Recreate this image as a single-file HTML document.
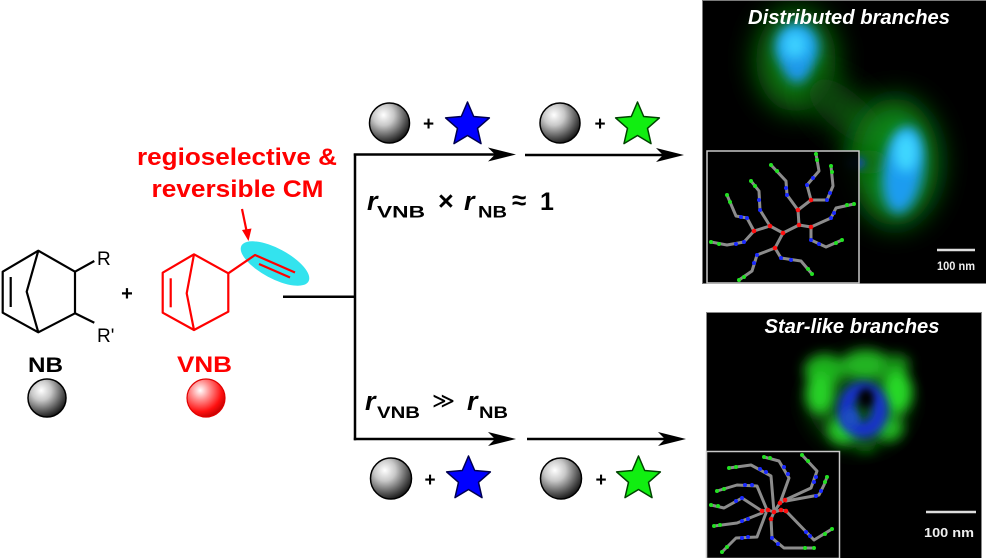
<!DOCTYPE html>
<html>
<head>
<meta charset="utf-8">
<style>
  html,body{margin:0;padding:0;background:#fff;}
  svg{display:block;}
  text{font-family:"Liberation Sans","DejaVu Sans",sans-serif;}
</style>
</head>
<body>
<svg width="986" height="558" viewBox="0 0 986 558" xmlns="http://www.w3.org/2000/svg">
  <defs>
    <radialGradient id="gs" cx="35%" cy="30%" r="75%">
      <stop offset="0%" stop-color="#ffffff"/>
      <stop offset="35%" stop-color="#c8c8c8"/>
      <stop offset="75%" stop-color="#555"/>
      <stop offset="100%" stop-color="#111"/>
    </radialGradient>
    <radialGradient id="rs" cx="35%" cy="30%" r="75%">
      <stop offset="0%" stop-color="#ffffff"/>
      <stop offset="35%" stop-color="#ff8a8a"/>
      <stop offset="75%" stop-color="#ff1010"/>
      <stop offset="100%" stop-color="#c00000"/>
    </radialGradient>
    <path id="star" d="M0,-23 L6.2,-8.5 L21.87,-7.11 L10,3.3 L13.52,18.61 L0,10.5 L-13.52,18.61 L-10,3.3 L-21.87,-7.11 L-6.2,-8.5 Z"/>
    <filter id="b14" x="-100%" y="-100%" width="300%" height="300%"><feGaussianBlur stdDeviation="14"/></filter>
    <filter id="b10" x="-100%" y="-100%" width="300%" height="300%"><feGaussianBlur stdDeviation="10"/></filter>
    <filter id="b6" x="-100%" y="-100%" width="300%" height="300%"><feGaussianBlur stdDeviation="6"/></filter>
    <filter id="b5" x="-100%" y="-100%" width="300%" height="300%"><feGaussianBlur stdDeviation="5"/></filter>
    <filter id="b4" x="-100%" y="-100%" width="300%" height="300%"><feGaussianBlur stdDeviation="4"/></filter>
    <filter id="b3" x="-100%" y="-100%" width="300%" height="300%"><feGaussianBlur stdDeviation="3"/></filter>
  </defs>

  <!-- ===== LEFT: NB ===== -->
  <g fill="none" stroke="#000" stroke-width="2.2" stroke-linejoin="round">
    <path d="M38.3,250.7 L2.7,271.7 L2.7,312.7 L38.3,332.3 L75,313.3 L75,271.7 Z"/>
    <path d="M38.3,250.7 L26.7,291.7 L38.3,332.3"/>
    <path d="M10.7,277 L10.7,307"/>
    <path d="M75,271.7 L94.3,261"/>
    <path d="M75,313.3 L94.3,322.7"/>
  </g>
  <text x="97" y="265" font-size="19" fill="#000">R</text>
  <text x="97" y="342" font-size="19" fill="#000">R'</text>
  <text x="127" y="300" font-size="20" font-weight="bold" text-anchor="middle" fill="#000">+</text>
  <text x="45.5" y="372" font-size="21" font-weight="bold" text-anchor="middle" fill="#000" textLength="35" lengthAdjust="spacingAndGlyphs">NB</text>
  <circle cx="47" cy="398" r="19" fill="url(#gs)" stroke="#000" stroke-width="1.5"/>

  <!-- ===== VNB ===== -->
  <ellipse cx="275" cy="263.5" rx="38" ry="15" transform="rotate(28 275 263.5)" fill="#33e3ee"/>
  <g fill="none" stroke="#ff0000" stroke-width="2.2" stroke-linejoin="round">
    <path d="M194,254.3 L162.7,272.7 L162.7,312.7 L194,330 L228.3,311.7 L228.3,273.3 Z"/>
    <path d="M194,254.3 L186.7,293.3 L194,330"/>
    <path d="M170.7,278.3 L170.7,307.3"/>
    <path d="M228.3,273.3 L255,255 L295,272.5"/>
    <path d="M259,264 L290,277.5"/>
    <path d="M242,209 L247,233"/>
  </g>
  <polygon points="248.5,241 242,230 251.5,228.5" fill="#ff0000"/>
  <text x="237" y="165" font-size="24" font-weight="bold" text-anchor="middle" fill="#ff0000" textLength="200" lengthAdjust="spacingAndGlyphs">regioselective &amp;</text>
  <text x="237.5" y="197" font-size="24" font-weight="bold" text-anchor="middle" fill="#ff0000" textLength="172" lengthAdjust="spacingAndGlyphs">reversible CM</text>
  <text x="204.5" y="372" font-size="22" font-weight="bold" text-anchor="middle" fill="#ff0000" textLength="55" lengthAdjust="spacingAndGlyphs">VNB</text>
  <circle cx="206" cy="398" r="19" fill="url(#rs)" stroke="#e00000" stroke-width="1.2"/>

  <!-- ===== Branch lines and arrows ===== -->
  <g stroke="#000" stroke-width="2.5" fill="none">
    <path d="M283,296.7 L355,296.7"/>
    <path d="M355,153.5 L355,440.2"/>
    <path d="M353.8,154.5 L500,154.5"/>
    <path d="M525,155 L668,155"/>
    <path d="M353.8,439 L500,439"/>
    <path d="M527,439 L670,439"/>
  </g>
  <g fill="#000">
    <polygon points="516,154.5 488,147.5 495,154.5 488,161.5"/>
    <polygon points="684,155 656,148 663,155 656,162"/>
    <polygon points="516,439 488,432 495,439 488,446"/>
    <polygon points="686,439 658,432 665,439 658,446"/>
  </g>

  <!-- top reagents -->
  <circle cx="389.5" cy="123" r="20" fill="url(#gs)" stroke="#000" stroke-width="1.5"/>
  <text x="428.5" y="130" font-size="19" font-weight="bold" text-anchor="middle">+</text>
  <use href="#star" x="467.5" y="125" fill="#0000ff" stroke="#000050" stroke-width="1.5" stroke-linejoin="round"/>
  <circle cx="560" cy="123" r="20" fill="url(#gs)" stroke="#000" stroke-width="1.5"/>
  <text x="600" y="130" font-size="19" font-weight="bold" text-anchor="middle">+</text>
  <use href="#star" x="637.5" y="125" fill="#11ee11" stroke="#004400" stroke-width="1.5" stroke-linejoin="round"/>

  <!-- bottom reagents -->
  <circle cx="391" cy="478.5" r="20.5" fill="url(#gs)" stroke="#000" stroke-width="1.5"/>
  <text x="430" y="486" font-size="19" font-weight="bold" text-anchor="middle">+</text>
  <use href="#star" x="468.5" y="479" fill="#0000ff" stroke="#000050" stroke-width="1.5" stroke-linejoin="round"/>
  <circle cx="561" cy="478.5" r="20.5" fill="url(#gs)" stroke="#000" stroke-width="1.5"/>
  <text x="601" y="486" font-size="19" font-weight="bold" text-anchor="middle">+</text>
  <use href="#star" x="638.5" y="479" fill="#11ee11" stroke="#004400" stroke-width="1.5" stroke-linejoin="round"/>

  <!-- formulas -->
  <text x="367" y="210" font-size="27" font-weight="bold" font-style="italic">r</text>
  <text x="377" y="217.5" font-size="17" font-weight="bold" textLength="48" lengthAdjust="spacingAndGlyphs">VNB</text>
  <text x="438" y="210" font-size="27" font-weight="bold">×</text>
  <text x="464" y="210" font-size="27" font-weight="bold" font-style="italic">r</text>
  <text x="478" y="217.5" font-size="17" font-weight="bold" textLength="29" lengthAdjust="spacingAndGlyphs">NB</text>
  <text x="512" y="209" font-size="26" font-weight="bold">≈</text>
  <text x="540" y="210" font-size="25" font-weight="bold">1</text>

  <text x="365" y="410" font-size="27" font-weight="bold" font-style="italic">r</text>
  <text x="377" y="418" font-size="17" font-weight="bold" textLength="43" lengthAdjust="spacingAndGlyphs">VNB</text>
  <text x="432" y="408" font-size="22" font-family="DejaVu Sans, sans-serif" textLength="23" lengthAdjust="spacingAndGlyphs">≫</text>
  <text x="467" y="410" font-size="27" font-weight="bold" font-style="italic">r</text>
  <text x="479" y="418" font-size="17" font-weight="bold" textLength="29" lengthAdjust="spacingAndGlyphs">NB</text>

  <!-- ===== TOP IMAGE ===== -->
  <rect x="702" y="0" width="284" height="284" fill="#000"/>
  <g>
    <ellipse cx="796" cy="60" rx="40" ry="52" fill="#0b7410" filter="url(#b14)"/>
    <ellipse cx="846" cy="112" rx="48" ry="20" transform="rotate(40 846 112)" fill="#084e0a" filter="url(#b14)"/>
    <ellipse cx="895" cy="162" rx="44" ry="64" fill="#0f8414" filter="url(#b14)"/>
    <ellipse cx="868" cy="162" rx="22" ry="12" fill="#0a6a10" filter="url(#b10)"/>
    <ellipse cx="797" cy="47" rx="22" ry="24" fill="#1aa0f0" filter="url(#b6)"/>
    <ellipse cx="797" cy="66" rx="13" ry="17" fill="#1a98ea" filter="url(#b6)"/>
    <ellipse cx="795" cy="45" rx="12" ry="14" fill="#3cd0ff" filter="url(#b6)"/>
    <ellipse cx="903" cy="170" rx="20" ry="44" transform="rotate(8 903 170)" fill="#1a9cf0" filter="url(#b6)"/>
    <ellipse cx="906" cy="152" rx="12" ry="20" fill="#40d8ff" filter="url(#b6)"/>
    <ellipse cx="856" cy="163" rx="10" ry="6" fill="#1050a0" filter="url(#b4)"/>
  </g>
  <rect x="702.5" y="0.5" width="284" height="283" fill="none" stroke="#7a7a7a" stroke-width="1"/>
  <text x="849" y="24" font-size="20" font-weight="bold" font-style="italic" fill="#fff" text-anchor="middle" textLength="202" lengthAdjust="spacingAndGlyphs">Distributed branches</text>
  <line x1="937" y1="250" x2="975" y2="250" stroke="#ddd" stroke-width="2.5"/>
  <text x="956" y="270" font-size="12" font-weight="bold" fill="#eee" text-anchor="middle" textLength="38" lengthAdjust="spacingAndGlyphs">100 nm</text>

  <!-- top inset -->
  <rect x="707" y="151" width="152" height="132" fill="#000" fill-opacity="0.9" stroke="#c8c8c8" stroke-width="1.5"/>
  <g fill="none" stroke="#8c8c8c" stroke-width="3" stroke-linecap="round" stroke-linejoin="round">
    <polyline points="754,231 770,226 783,233 799,225 811,227"/>
    <polyline points="783,233 775,248"/>
    <polyline points="799,225 798,210 811,200"/>
    <polyline points="754,231 744,242 727,245 711,242"/>
    <polyline points="754,231 747,218 736,216 727,195"/>
    <polyline points="770,226 760,210 759,191 751,181"/>
    <polyline points="798,210 787,195 786,181 771,165"/>
    <polyline points="811,200 807,185 819,171 816,154"/>
    <polyline points="811,200 827,200 833,186 831,166"/>
    <polyline points="811,227 831,218 836,208 854,204"/>
    <polyline points="811,227 811,240 826,247 842,240"/>
    <polyline points="775,248 757,255 752,271 739,280"/>
    <polyline points="775,248 781,258 801,261 812,274"/>
  </g>
  <g fill="#ff1010">
    <circle cx="754" cy="231" r="2.3"/><circle cx="770" cy="226" r="2.3"/><circle cx="783" cy="233" r="2.3"/>
    <circle cx="799" cy="225" r="2.3"/><circle cx="798" cy="210" r="2.3"/><circle cx="811" cy="200" r="2.3"/>
    <circle cx="811" cy="227" r="2.3"/><circle cx="775" cy="248" r="2.3"/>
  </g>
  <g fill="#1a2aff">
    <circle cx="744" cy="242" r="2"/><circle cx="736" cy="244" r="2"/>
    <circle cx="747" cy="218" r="2"/><circle cx="741" cy="217" r="2"/>
    <circle cx="760" cy="210" r="2"/><circle cx="759" cy="200" r="2"/>
    <circle cx="787" cy="195" r="2"/><circle cx="786" cy="188" r="2"/>
    <circle cx="807" cy="185" r="2"/><circle cx="813" cy="178" r="2"/>
    <circle cx="827" cy="200" r="2"/><circle cx="830" cy="193" r="2"/>
    <circle cx="831" cy="218" r="2"/><circle cx="834" cy="213" r="2"/>
    <circle cx="811" cy="240" r="2"/><circle cx="819" cy="244" r="2"/>
    <circle cx="757" cy="255" r="2"/><circle cx="754" cy="263" r="2"/>
    <circle cx="781" cy="258" r="2"/><circle cx="791" cy="260" r="2"/>
  </g>
  <g fill="#22e022">
    <circle cx="719" cy="244" r="2"/><circle cx="711" cy="242" r="2"/>
    <circle cx="730" cy="202" r="2"/><circle cx="727" cy="195" r="2"/>
    <circle cx="755" cy="186" r="2"/><circle cx="751" cy="181" r="2"/>
    <circle cx="777" cy="171" r="2"/><circle cx="771" cy="165" r="2"/>
    <circle cx="817" cy="160" r="2"/><circle cx="816" cy="154" r="2"/>
    <circle cx="832" cy="172" r="2"/><circle cx="831" cy="166" r="2"/>
    <circle cx="847" cy="205" r="2"/><circle cx="854" cy="204" r="2"/>
    <circle cx="836" cy="243" r="2"/><circle cx="842" cy="240" r="2"/>
    <circle cx="744" cy="277" r="2"/><circle cx="739" cy="280" r="2"/>
    <circle cx="808" cy="269" r="2"/><circle cx="812" cy="274" r="2"/>
  </g>

  <!-- ===== BOTTOM IMAGE ===== -->
  <rect x="706" y="312" width="276" height="246" fill="#000"/>
  <ellipse cx="858" cy="402" rx="50" ry="46" fill="#0a4a0c" filter="url(#b10)"/>
  <g filter="url(#b6)">
    <ellipse cx="824" cy="370" rx="20" ry="16" fill="#1fb01f"/>
    <ellipse cx="866" cy="365" rx="24" ry="15" fill="#20b420"/>
    <ellipse cx="896" cy="364" rx="14" ry="10" fill="#168a16"/>
    <ellipse cx="897" cy="392" rx="15" ry="22" fill="#26d826"/>
    <ellipse cx="820" cy="394" rx="14" ry="20" fill="#26d226"/>
    <ellipse cx="843" cy="430" rx="15" ry="14" fill="#26d026"/>
    <ellipse cx="889" cy="428" rx="14" ry="13" fill="#20b820"/>
    <ellipse cx="866" cy="446" rx="10" ry="6" fill="#107010"/>
  </g>
  <ellipse cx="863" cy="410" rx="17" ry="20" fill="none" stroke="#1630d0" stroke-width="16" filter="url(#b5)"/>
  <ellipse cx="850" cy="418" rx="8" ry="10" fill="#1a50c0" filter="url(#b4)"/>
  <ellipse cx="866" cy="398" rx="8" ry="10" fill="#000" filter="url(#b4)"/>
  <rect x="706.5" y="312.5" width="275" height="246" fill="none" stroke="#888" stroke-width="1"/>
  <text x="852" y="333" font-size="20" font-weight="bold" font-style="italic" fill="#fff" text-anchor="middle" textLength="175" lengthAdjust="spacingAndGlyphs">Star-like branches</text>
  <line x1="926" y1="512" x2="976" y2="512" stroke="#ddd" stroke-width="2.5"/>
  <text x="949" y="537" font-size="13" font-weight="bold" fill="#eee" text-anchor="middle" textLength="50" lengthAdjust="spacingAndGlyphs">100 nm</text>

  <!-- bottom inset -->
  <rect x="706.5" y="451.5" width="133" height="107" fill="#000" stroke="#c8c8c8" stroke-width="1.5"/>
  <g fill="none" stroke="#8c8c8c" stroke-width="3" stroke-linecap="round" stroke-linejoin="round">
    <polyline points="767,510 757,486 737,485 717,491"/>
    <polyline points="774,512 771,476 751,465 729,468"/>
    <polyline points="780,503 789,478 779,461 764,457"/>
    <polyline points="785,500 811,488 817,471 802,455"/>
    <polyline points="786,501 819,495 824,485 827,477"/>
    <polyline points="786,511 814,540 832,529"/>
    <polyline points="771,519 772,538 784,548 814,548"/>
    <polyline points="766,513 757,537 736,538 722,552"/>
    <polyline points="762,513 737,523 714,526"/>
    <polyline points="762,511 742,498 724,508 711,505"/>
    <polyline points="762,511 768,510 774,512 781,510 786,511"/>
    <polyline points="771,519 774,512 780,503 785,500"/>
  </g>
  <g fill="#ff1010">
    <circle cx="762" cy="511" r="2.3"/><circle cx="768" cy="510" r="2.3"/><circle cx="774" cy="512" r="2.3"/>
    <circle cx="771" cy="519" r="2.3"/><circle cx="780" cy="503" r="2.3"/><circle cx="785" cy="500" r="2.3"/>
    <circle cx="781" cy="510" r="2.3"/><circle cx="786" cy="511" r="2.3"/>
  </g>
  <g fill="#1a2aff">
    <circle cx="752" cy="485" r="2"/><circle cx="745" cy="485" r="2"/>
    <circle cx="766" cy="472" r="2"/><circle cx="760" cy="469" r="2"/>
    <circle cx="788" cy="474" r="2"/><circle cx="784" cy="467" r="2"/>
    <circle cx="814" cy="482" r="2"/><circle cx="816" cy="477" r="2"/>
    <circle cx="816" cy="496" r="2"/><circle cx="821" cy="491" r="2"/>
    <circle cx="806" cy="532" r="2"/><circle cx="810" cy="536" r="2"/>
    <circle cx="772" cy="538" r="2"/><circle cx="778" cy="544" r="2"/>
    <circle cx="748" cy="537" r="2"/><circle cx="742" cy="538" r="2"/>
    <circle cx="748" cy="519" r="2"/><circle cx="742" cy="521" r="2"/>
    <circle cx="742" cy="498" r="2"/><circle cx="736" cy="501" r="2"/>
  </g>
  <g fill="#22e022">
    <circle cx="724" cy="489" r="2"/><circle cx="717" cy="491" r="2"/>
    <circle cx="736" cy="467" r="2"/><circle cx="729" cy="468" r="2"/>
    <circle cx="770" cy="458" r="2"/><circle cx="764" cy="457" r="2"/>
    <circle cx="808" cy="461" r="2"/><circle cx="802" cy="455" r="2"/>
    <circle cx="825" cy="482" r="2"/><circle cx="827" cy="477" r="2"/>
    <circle cx="825" cy="534" r="2"/><circle cx="832" cy="529" r="2"/>
    <circle cx="805" cy="548" r="2"/><circle cx="814" cy="548" r="2"/>
    <circle cx="727" cy="547" r="2"/><circle cx="722" cy="552" r="2"/>
    <circle cx="720" cy="525" r="2"/><circle cx="714" cy="526" r="2"/>
    <circle cx="718" cy="506" r="2"/><circle cx="711" cy="505" r="2"/>
  </g>
</svg>
</body>
</html>
